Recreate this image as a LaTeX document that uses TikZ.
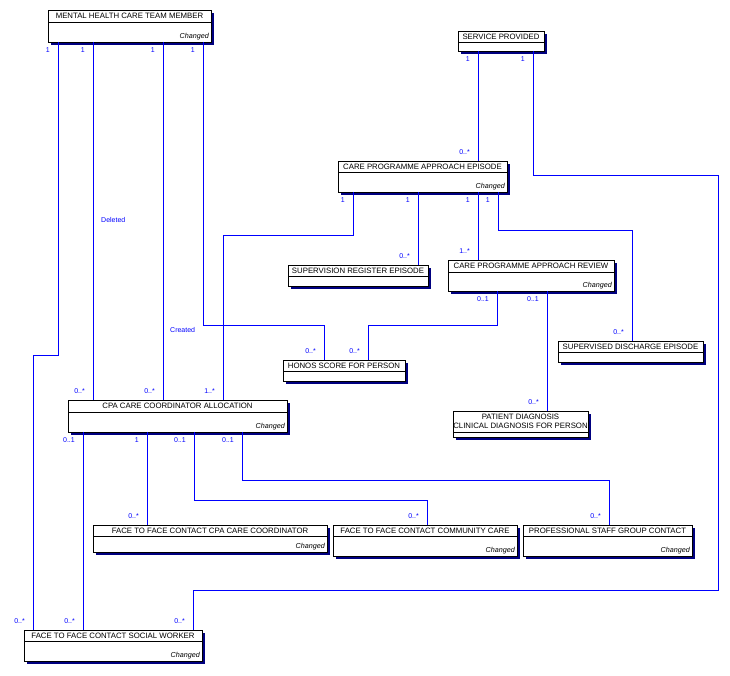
\documentclass[tikz,border=0pt]{standalone}
\usepackage{fontspec}
\setmainfont{Liberation Sans}
\usetikzlibrary{shadows,calc}
\definecolor{cblue}{RGB}{0,0,255}
\definecolor{snavy}{RGB}{0,0,128}
\tikzset{
 entbox/.style={draw=black, line width=0.8pt, fill=white, inner sep=0pt, outer sep=0pt,
   general shadow={fill=snavy, shadow xshift=3pt, shadow yshift=-3pt}},
 sepline/.style={draw=black, line width=0.8pt},
 ttl/.style={inner sep=0pt, font=\fontsize{7.8}{8.6}\selectfont, align=center},
 chg/.style={inner sep=0pt, font=\fontsize{7.2}{7.6}\selectfont\itshape},
 mult/.style={inner sep=0pt, text=cblue, font=\fontsize{7}{7.5}\selectfont},
 conn/.style={draw=cblue, line width=0.8pt},
 bl/.style={mult, anchor=north east},
 tl/.style={mult, anchor=south east},
 note/.style={mult, anchor=west},
}
% #1 name, #2 x, #3 y, #4 w, #5 h, #6 title height, #7 title, #8 changed flag
\newcommand{\ent}[8]{%
  \node[entbox, minimum width=#4pt, minimum height=#5pt, anchor=north west] (#1) at (#2,#3) {};
  \draw[sepline] ([yshift=-#6pt]#1.north west) -- ([yshift=-#6pt]#1.north east);
  \node[ttl] (#1-t) at ($(#1.north west)!0.5!([yshift=-#6pt]#1.north east)$) {#7};
  \ifnum#8=1 \node[chg, anchor=south east] (#1-c) at ([xshift=-2pt,yshift=2pt]#1.south east) {Changed};\fi
}
\newcommand{\bm}[4]{\node[bl] (#1) at (#2-8,#3+5) {#4};}
\newcommand{\tm}[4]{\node[tl] (#1) at (#2-8,#3-6) {#4};}
\begin{document}
\begin{tikzpicture}[x=1pt,y=-1pt]
\useasboundingbox (0,0) rectangle (730,675);
% entities
\ent{mh}{48}{10}{163}{32}{12}{MENTAL HEALTH CARE TEAM MEMBER}{1}
\ent{sp}{458}{31}{86}{20}{11}{SERVICE PROVIDED}{0}
\ent{ep}{338}{161}{169}{31}{11}{CARE PROGRAMME APPROACH EPISODE}{1}
\ent{sre}{288}{265}{140}{21}{11}{SUPERVISION REGISTER EPISODE}{0}
\ent{rev}{448}{260}{166}{31}{12}{CARE PROGRAMME APPROACH REVIEW}{1}
\ent{sde}{558}{341}{145}{21}{11}{SUPERVISED DISCHARGE EPISODE}{0}
\ent{hon}{283}{360}{122}{21}{11}{HONOS SCORE FOR PERSON}{0}
\ent{pd}{453}{411}{135}{26}{21}{PATIENT DIAGNOSIS\\CLINICAL DIAGNOSIS FOR PERSON}{0}
\ent{cc}{68}{400}{219}{32}{12}{CPA CARE COORDINATOR ALLOCATION}{1}
\ent{fa}{93}{525}{234}{27}{11}{FACE TO FACE CONTACT CPA CARE COORDINATOR}{1}
\ent{fb}{333}{525}{184}{31}{11}{FACE TO FACE CONTACT COMMUNITY CARE}{1}
\ent{fc}{523}{525}{169}{31}{11}{PROFESSIONAL STAFF GROUP CONTACT}{1}
\ent{sw}{24}{630}{178}{31}{11}{FACE TO FACE CONTACT SOCIAL WORKER}{1}
% connectors
\draw[conn] (mh.south -| 58,0) -- (58,355) -- (33,355) -- (sw.north -| 33,0);
\draw[conn] (mh.south -| 93,0) -- (cc.north -| 93,0);
\draw[conn] (mh.south -| 163,0) -- (cc.north -| 163,0);
\draw[conn] (mh.south -| 203,0) -- (203,325) -- (324,325) -- (hon.north -| 324,0);
\draw[conn] (sp.south -| 478,0) -- (ep.north -| 478,0);
\draw[conn] (sp.south -| 533,0) -- (533,175) -- (718,175) -- (718,590) -- (193,590) -- (sw.north -| 193,0);
\draw[conn] (ep.south -| 353,0) -- (353,235) -- (223,235) -- (cc.north -| 223,0);
\draw[conn] (ep.south -| 418,0) -- (sre.north -| 418,0);
\draw[conn] (ep.south -| 478,0) -- (rev.north -| 478,0);
\draw[conn] (ep.south -| 498,0) -- (498,230) -- (632,230) -- (sde.north -| 632,0);
\draw[conn] (rev.south -| 497,0) -- (497,325) -- (368,325) -- (hon.north -| 368,0);
\draw[conn] (rev.south -| 547,0) -- (pd.north -| 547,0);
\draw[conn] (cc.south -| 83,0) -- (sw.north -| 83,0);
\draw[conn] (cc.south -| 147,0) -- (fa.north -| 147,0);
\draw[conn] (cc.south -| 194,0) -- (194,500) -- (427,500) -- (fb.north -| 427,0);
\draw[conn] (cc.south -| 242,0) -- (242,480) -- (609,480) -- (fc.north -| 609,0);
% multiplicities
\bm{m1a}{58}{42}{1}   \tm{m1b}{33}{630}{0..*}
\bm{m2a}{93}{42}{1}   \tm{m2b}{93}{400}{0..*}
\bm{m3a}{163}{42}{1}  \tm{m3b}{163}{400}{0..*}
\bm{m4a}{203}{42}{1}  \tm{m4b}{324}{360}{0..*}
\bm{m5a}{478}{51}{1}  \tm{m5b}{478}{161}{0..*}
\bm{m6a}{533}{51}{1}  \tm{m6b}{193}{630}{0..*}
\bm{m7a}{353}{192}{1} \tm{m7b}{223}{400}{1..*}
\bm{m8a}{418}{192}{1} \tm{m8b}{418}{265}{0..*}
\bm{m9a}{478}{192}{1} \tm{m9b}{478}{260}{1..*}
\bm{m10a}{498}{192}{1} \tm{m10b}{632}{341}{0..*}
\bm{m11a}{497}{291}{0..1} \tm{m11b}{368}{360}{0..*}
\bm{m12a}{547}{291}{0..1} \tm{m12b}{547}{411}{0..*}
\bm{m13a}{83}{432}{0..1} \tm{m13b}{83}{630}{0..*}
\bm{m14a}{147}{432}{1}   \tm{m14b}{147}{525}{0..*}
\bm{m15a}{194}{432}{0..1} \tm{m15b}{427}{525}{0..*}
\bm{m16a}{242}{432}{0..1} \tm{m16b}{609}{525}{0..*}
% role notes
\node[note] (del) at (101,220) {Deleted};
\node[note] (cre) at (170,330) {Created};
\end{tikzpicture}
\end{document}
